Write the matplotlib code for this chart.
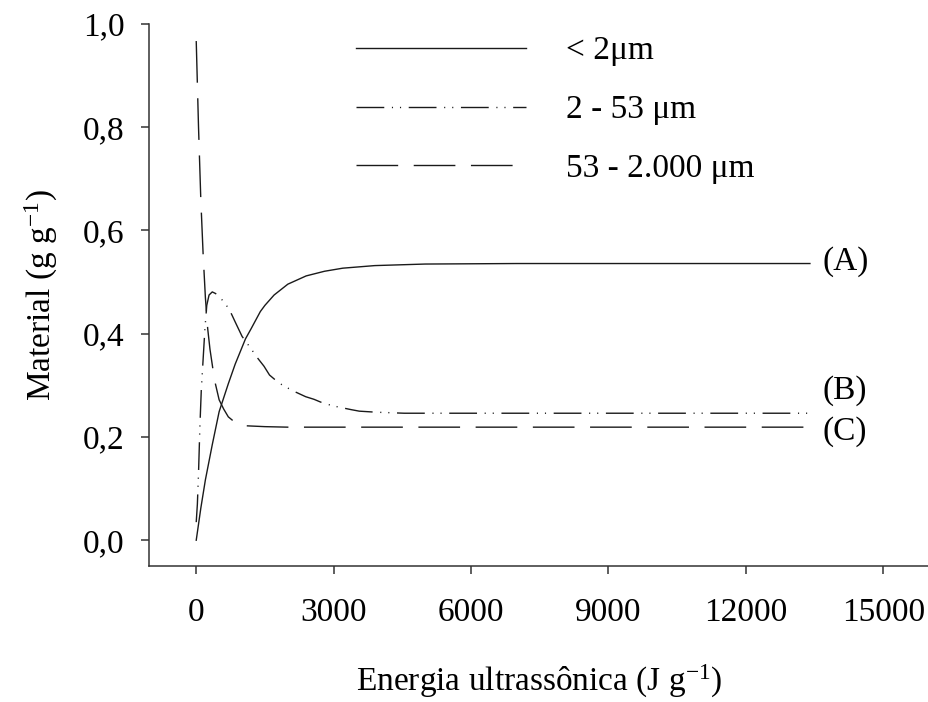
import matplotlib
matplotlib.use('Agg')
import matplotlib.pyplot as plt

plt.rcParams['font.family'] = ['Liberation Serif', 'DejaVu Serif']
plt.rcParams['mathtext.fontset'] = 'custom'
plt.rcParams['mathtext.rm'] = 'Liberation Serif'
plt.rcParams['mathtext.it'] = 'Liberation Serif:italic'
plt.rcParams['lines.scale_dashes'] = False

# < 2 um fraction (A)
energy_a = [0, 100, 200, 350, 500, 700, 850, 1075, 1200, 1400, 1500, 1700, 2000,
            2400, 2800, 3200, 3900, 5000, 7000, 10000, 13400]
frac_a = [0.0, 0.062, 0.117, 0.185, 0.249, 0.303, 0.341, 0.390, 0.410, 0.443, 0.455,
          0.475, 0.496, 0.512, 0.521, 0.527, 0.532, 0.535, 0.536, 0.536, 0.536]

# 2 - 53 um fraction (B)
energy_b = [0, 25, 50, 80, 110, 150, 190, 230, 280, 350, 420, 500, 640, 760, 855,
            1000, 1220, 1330, 1480, 1600, 1800, 1950, 2170, 2390, 2570, 2760, 3000,
            3380, 3560, 3925, 4540, 6000, 9000, 13400]
frac_b = [0.035, 0.07, 0.13, 0.22, 0.29, 0.35, 0.41, 0.455, 0.475, 0.481, 0.478,
          0.472, 0.458, 0.440, 0.422, 0.395, 0.368, 0.354, 0.337, 0.320, 0.305,
          0.297, 0.287, 0.278, 0.273, 0.266, 0.260, 0.253, 0.250, 0.248, 0.246,
          0.246, 0.246, 0.246]

# 53 - 2000 um fraction (C)
energy_c = [0, 50, 100, 150, 200, 250, 300, 350, 400, 500, 600, 700, 850, 1000,
            1500, 2000, 5000, 9000, 13400]
frac_c = [0.967, 0.80, 0.66, 0.555, 0.47, 0.41, 0.37, 0.34, 0.31, 0.272, 0.254,
          0.239, 0.228, 0.222, 0.220, 0.219, 0.219, 0.219, 0.219]

legend_labels = ['< 2\u03bcm', '2 - 53 \u03bcm', '53 - 2.000 \u03bcm']
curve_tags = ['(A)', '(B)', '(C)']
tag_y = [0.540, 0.290, 0.210]

fig = plt.figure(figsize=(9.29, 7.02), dpi=100)
ax = fig.add_axes([0.1607, 0.1937, 0.8393, 0.7721])

lc = '#1a1a1a'
ax.plot(energy_a, frac_a, color=lc, lw=1.0, ls='-', label=legend_labels[0])
ax.plot(energy_b, frac_b, color=lc, lw=1.0,
        ls=(0, (20, 5.5, 0.8, 5, 0.8, 5.5)), label=legend_labels[1])
ax.plot(energy_c, frac_c, color=lc, lw=1.0, ls=(0, (30, 11.2)), label=legend_labels[2])

for tag, ty in zip(curve_tags, tag_y):
    ax.text(13680, ty, tag, fontsize=24, ha='left', va='center')

ax.set_xlim(-1025, 16000)
ax.set_ylim(-0.05, 1.0)
ax.set_xticks([0, 3000, 6000, 9000, 12000, 15000])
ax.set_yticks([0.0, 0.2, 0.4, 0.6, 0.8, 1.0])
ax.set_yticklabels(['0,0', '0,2', '0,4', '0,6', '0,8', '1,0'])

for s in ['top', 'right']:
    ax.spines[s].set_visible(False)
for s in ['left', 'bottom']:
    ax.spines[s].set_linewidth(1.1)
    ax.spines[s].set_color('#333333')
ax.tick_params(axis='both', direction='out', length=6, width=1.1, color='#333333',
               labelsize=24)
ax.tick_params(axis='x', pad=17)
ax.tick_params(axis='y', pad=12)

ax.set_xlabel('Energia ultrass\u00f4nica (J g$^{\\mathrm{-1}}$)', fontsize=24, labelpad=25)
ax.set_ylabel('Material (g g$^{\\mathrm{-1}}$)', fontsize=24, labelpad=16)

ax.legend(loc='upper left', bbox_to_anchor=(0.265, 0.978), frameon=False,
          fontsize=24, handlelength=5.1, handletextpad=1.2, labelspacing=0.85,
          borderpad=0, borderaxespad=0)

fig.savefig('out.png', dpi=100)
